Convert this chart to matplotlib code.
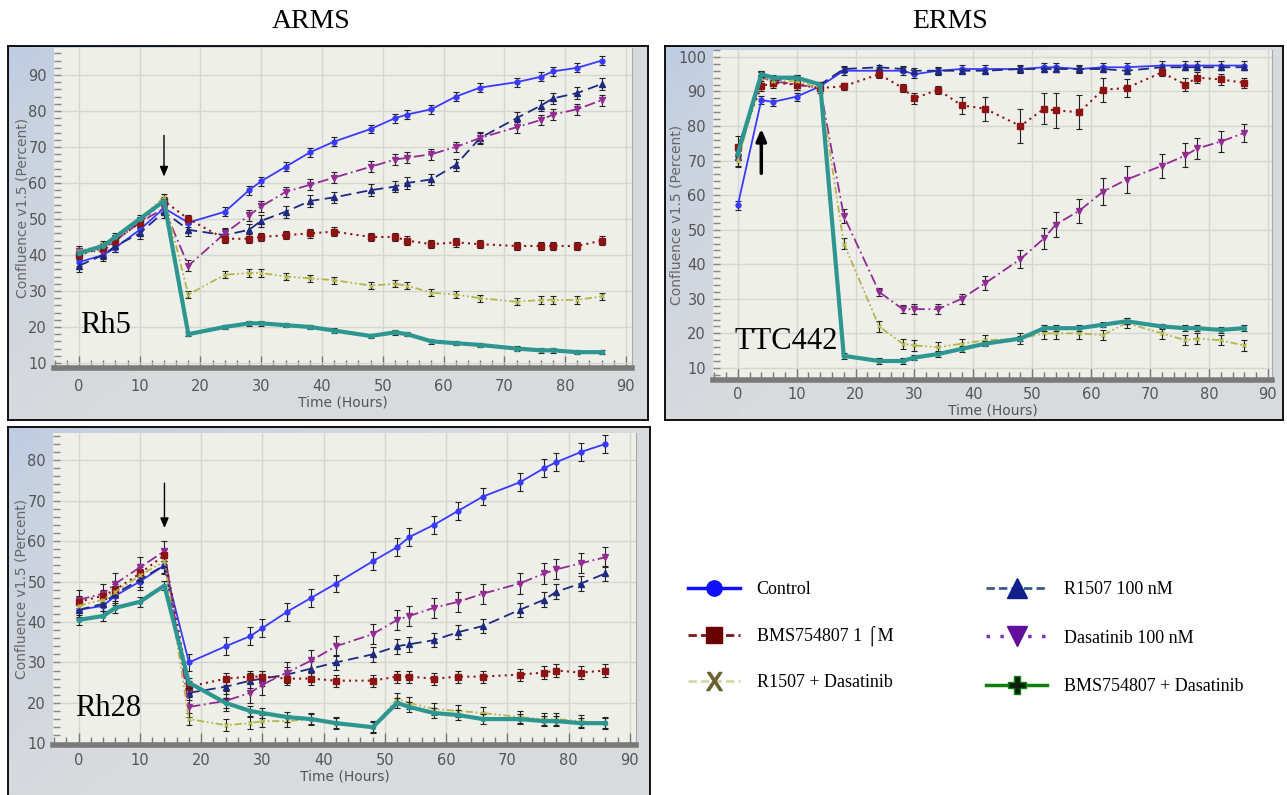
import numpy as np
import matplotlib.pyplot as plt
from matplotlib import font_manager
from matplotlib.lines import Line2D
from matplotlib.ticker import MultipleLocator

W, H = 1287, 795

hours = [0, 4, 6, 10, 14, 18, 24, 28, 30, 34, 38, 42, 48, 52, 54, 58, 62, 66, 72, 76, 78, 82, 86]

labels = ['Control', 'BMS754807 1 ⌠M', 'R1507 + Dasatinib',
          'R1507 100 nM', 'Dasatinib 100 nM', 'BMS754807 + Dasatinib']

# Rh5 (ARMS)
rh5_control = [38, 40, 42, 47, 53, 49, 52, 58, 60.5, 64.5, 68.5, 71.5, 75, 78, 79, 80.5, 84, 86.5, 88, 89.5, 91, 92, 94]
rh5_r1507 = [37, 40, 42.5, 46, 52, 47, 45.5, 47, 49.5, 52, 55, 56, 58, 59, 60, 61, 65, 72.5, 78, 81.5, 83.5, 85, 87.5]
rh5_das = [41, 41, 44, 49, 53, 37, 46, 51, 53.5, 57.5, 59.5, 61.5, 64.5, 66.5, 67, 68, 70, 72.5, 75.5, 77.5, 79, 80.5, 83]
rh5_bms = [40, 42, 44, 49, 55, 50, 44.5, 44.5, 45, 45.5, 46, 46.5, 45, 45, 44, 43, 43.5, 43, 42.5, 42.5, 42.5, 42.5, 44]
rh5_r_das = [41, 43, 45, 50, 56, 29, 34.5, 35, 35, 34, 33.5, 33, 31.5, 32, 31.5, 29.5, 29, 28, 27, 27.5, 27.5, 27.5, 28.5]
rh5_b_das = [40.5, 42.5, 45, 50, 55, 18, 20, 21, 21, 20.5, 20, 19, 17.5, 18.5, 18, 16, 15.5, 15, 14, 13.5, 13.5, 13, 13]
rh5_err = [1.2, 1.2, 1.0, 1.6, 1.5, 0.6]

# TTC442 (ERMS)
ttc_control = [57, 87.5, 87, 88.5, 91.5, 96, 96, 96, 95, 96, 96.5, 96.5, 96.5, 97, 97, 96.5, 97, 97, 97.5, 97.5, 97.5, 97.5, 97.5]
ttc_r1507 = [71, 95, 93, 94, 92, 96.5, 97, 96.5, 96, 96, 96, 96, 96.5, 96.5, 96.5, 96.5, 96.5, 96, 97, 97, 97, 97, 97]
ttc_das = [71, 94, 93, 92, 91, 54, 32, 27, 27, 27, 30, 34.5, 41.5, 47.5, 51.5, 55.5, 61, 64.5, 68.5, 71.5, 73.5, 75.5, 78]
ttc_bms = [74, 91.5, 92.5, 92, 91, 91.5, 95, 91, 88, 90.5, 86, 85, 80, 85, 84.5, 84, 90.5, 91, 95.5, 92, 94, 93.5, 92.5]
ttc_r_das = [70, 94, 93, 93, 91, 46, 22, 17, 16.5, 16, 17, 18, 18.5, 20, 20, 20, 19.5, 23, 20, 18, 18.5, 18, 16.5]
ttc_b_das = [72, 95, 94, 94, 92, 13.5, 12, 12, 13, 14, 15.5, 17, 18.5, 21.5, 21.5, 21.5, 22.5, 23.5, 22, 21.5, 21.5, 21, 21.5]
ttc_bms_err = [3, 1.5, 1.5, 1.5, 1, 1, 1, 1.2, 1.5, 1.2, 2.5, 3.5, 5, 4.5, 5, 5, 3.5, 2.5, 1, 2, 1.5, 1.5, 1.5]
ttc_das_err = [3, 1.5, 1.5, 1.5, 1, 2, 1.2, 1.2, 1.5, 1.5, 1.5, 2, 2.5, 3, 3.5, 3.5, 4, 4, 3.5, 3.5, 3, 3, 2.5]
ttc_err = [1.2, ttc_bms_err, 1.5, 0.8, ttc_das_err, 0.8]

# Rh28 (ARMS)
rh28_control = [43, 44, 46.5, 50, 54, 30, 34, 36.5, 38.5, 42.5, 46, 49.5, 55, 58.5, 61, 64, 67.5, 71, 74.5, 78, 79.5, 82, 84]
rh28_r1507 = [43, 44.5, 47, 50.5, 54, 22.5, 24, 25.5, 26, 27, 28.5, 30, 32, 34, 34.5, 35.5, 37.5, 39, 43, 45.5, 47.5, 49.5, 52]
rh28_das = [45.5, 47, 49.5, 53.5, 57.5, 19, 20.5, 22.5, 24.5, 27.5, 30.5, 34, 37, 40.5, 41.5, 43.5, 45, 47, 49.5, 52, 53, 54.5, 56]
rh28_bms = [45, 46.5, 48, 52, 56.5, 24, 26, 26.5, 26.5, 26, 26, 25.5, 25.5, 26.5, 26.5, 26, 26.5, 26.5, 27, 27.5, 28, 27.5, 28]
rh28_r_das = [44, 45.5, 47.5, 51.5, 55, 16, 14.5, 15, 15.5, 15.5, 16, 15, 14, 21, 20, 18.5, 18, 17.5, 16.5, 16, 16, 15.5, 15]
rh28_b_das = [40.5, 41.5, 43.5, 45, 49, 25, 20, 18, 17.5, 16.5, 16, 15, 14, 20, 19, 17.5, 17, 16, 16, 15.5, 15.5, 15, 15]
rh28_err = [2.2, 1.5, 1.5, 1.8, 2.5, 1.2]

# line styles in the plots: control, bms, r1507+das, r1507, das, bms+das
plot_styles = [
    dict(color='#3a3aff', ls='-', lw=1.3, marker='o', ms=3.5),
    dict(color='#8e1414', ls=(0, (1, 2)), lw=1.5, marker='s', ms=4.5),
    dict(color='#b4b44c', ls=(0, (4, 1.5, 1, 1.5, 1, 1.5)), lw=1.3, marker='x', ms=3),
    dict(color='#1e2a80', ls=(0, (6, 3)), lw=1.3, marker='^', ms=4.5),
    dict(color='#922c92', ls=(0, (6, 2, 1, 2)), lw=1.3, marker='v', ms=5),
    dict(color='#2e9690', ls='-', lw=3, marker='o', ms=3),
]
draw_order = [0, 3, 4, 1, 2, 5]

names = {f.name for f in font_manager.fontManager.ttflist}
narrow = 'Liberation Sans Narrow' if 'Liberation Sans Narrow' in names else 'DejaVu Sans'
serif = ['Liberation Serif', 'DejaVu Serif']


def fx(px):
    return px / W


def fy(py):
    return 1 - py / H


fig = plt.figure(figsize=(W / 100, H / 100), dpi=100)
fig.patch.set_facecolor('white')


def panel_bg(x0, y0, x1, y1):
    bg = fig.add_axes([fx(x0), fy(y1), fx(x1 - x0), (y1 - y0) / H])
    h, w = 60, 60
    rr, cc = np.mgrid[0:h, 0:w]
    t = np.clip(rr / h * 0.9 + cc / w * 1.2, 0, 1) ** 0.6
    blue = np.array([0.74, 0.80, 0.89])
    gray = np.array([0.85, 0.855, 0.865])
    img = blue[None, None, :] * (1 - t[..., None]) + gray[None, None, :] * t[..., None]
    bg.imshow(img, aspect='auto', extent=[0, 1, 0, 1], interpolation='bilinear')
    bg.set_xticks([])
    bg.set_yticks([])
    for s in bg.spines.values():
        s.set_color('black')
        s.set_linewidth(1.3)
    return bg


def panel(box, xlim, ylim, series, errs, name, name_xy, arrow, ylab_px, xpad):
    left, top, right, bottom = box
    ax = fig.add_axes([fx(left), fy(bottom), fx(right - left), (bottom - top) / H])
    ax.set_facecolor('#efefe9')
    for i in draw_order:
        st = plot_styles[i]
        ax.errorbar(hours, series[i], yerr=errs[i], color=st['color'], ls=st['ls'],
                    lw=st['lw'], marker=st['marker'], ms=st['ms'],
                    mfc=st['color'], mec=st['color'],
                    ecolor='#222222', elinewidth=0.8, capsize=2, capthick=0.8,
                    zorder=3 + (2 if i == 5 else 0))
    ax.set_xlim(*xlim)
    ax.set_ylim(*ylim)
    ax.xaxis.set_major_locator(MultipleLocator(10))
    ax.xaxis.set_minor_locator(MultipleLocator(2))
    ax.yaxis.set_major_locator(MultipleLocator(10))
    ax.yaxis.set_minor_locator(MultipleLocator(2))
    ax.grid(True, which='major', color='#d6d6d0', lw=1)
    ax.set_axisbelow(True)
    for s in ['top', 'left']:
        ax.spines[s].set_visible(False)
    ax.spines['right'].set_color('#a8a8a8')
    ax.spines['bottom'].set_color('#7a7a7a')
    ax.spines['bottom'].set_linewidth(4)
    ax.tick_params(axis='x', which='both', direction='in', color='#777777', labelsize=10.5,
                   labelcolor='#555555', pad=xpad)
    ax.tick_params(axis='x', which='major', length=9, width=1)
    ax.tick_params(axis='x', which='minor', length=6, width=1)
    ax.tick_params(axis='y', which='both', direction='in', color='#888888', labelsize=10.5,
                   labelcolor='#555555', pad=5, length=5, width=1)
    for lab in ax.get_xticklabels() + ax.get_yticklabels():
        lab.set_family(narrow)
    ax.set_xlabel('Time (Hours)', family=narrow, fontsize=10, color='#555555', labelpad=1)
    ax.set_ylabel('Confluence v1.5 (Percent)', fontsize=10, color='#666666')
    ax.yaxis.set_label_coords(-ylab_px / (right - left), 0.5)
    ax.text(name_xy[0], name_xy[1], name, family=serif, fontsize=22, color='black',
            ha='left', va='center', transform=ax.transData, zorder=10)
    ax.annotate('', xy=arrow[1], xytext=arrow[0],
                arrowprops=dict(arrowstyle=arrow[2], color='black', lw=arrow[3]), zorder=10)
    return ax


panel_bg(8, 46, 648, 420)
panel_bg(665, 46, 1283, 420)
panel_bg(8, 427, 650, 800)

panel((54, 48, 632, 368), (-4.1, 91.0), (8.6, 97.5),
      [rh5_control, rh5_bms, rh5_r_das, rh5_r1507, rh5_das, rh5_b_das], rh5_err,
      'Rh5', (0.2, 20.5), ((14, 74), (14, 61), '-|>,head_width=0.25,head_length=0.6', 1.0),
      24, 8)

panel((713, 50, 1272, 380), (-4.2, 90.7), (6.5, 102),
      [ttc_control, ttc_bms, ttc_r_das, ttc_r1507, ttc_das, ttc_b_das], ttc_err,
      'TTC442', (-0.5, 17.5), ((4, 65.5), (4, 80), '-|>,head_width=0.3,head_length=0.7', 2.5),
      29, 5)

panel((53, 433, 636, 745), (-4.2, 91.0), (9.6, 86.7),
      [rh28_control, rh28_bms, rh28_r_das, rh28_r1507, rh28_das, rh28_b_das], rh28_err,
      'Rh28', (-0.6, 18.5), ((14, 75), (14, 62.5), '-|>,head_width=0.25,head_length=0.6', 1.0),
      24, 6)

fig.text(fx(311), fy(22), 'ARMS', family=serif, fontsize=20, ha='center', va='center')
fig.text(fx(950), fy(22), 'ERMS', family=serif, fontsize=20, ha='center', va='center')

# legend proxies
leg_styles = [
    dict(color='#1010ff', ls='-', lw=2.5, marker='o', ms=11, mfc='#1010ff', mec='#1010ff'),
    dict(color='#7a1818', ls=(0, (3, 1.5)), lw=2, marker='s', ms=12, mfc='#6a0000', mec='#6a0000'),
    dict(color='#cfdca8', ls=(0, (3, 1.5)), lw=2, marker=r'$\mathrm{X}$', ms=13, mfc='#6a6030', mec='#6a6030'),
    dict(color='#3a5a8a', ls=(0, (3, 1.5)), lw=2, marker='^', ms=14, mfc='#10208a', mec='#10208a'),
    dict(color='#8030c0', ls=(0, (1, 3)), lw=2.5, marker='v', ms=15, mfc='#60109a', mec='#60109a'),
    dict(color='#108010', ls='-', lw=2.5, marker='P', ms=13, mfc='#0a200a', mec='#108010'),
]
handles = [Line2D([], [], **s) for s in leg_styles]

leg_kw = dict(loc='upper left', frameon=False, borderpad=0, borderaxespad=0,
              labelspacing=1.55, handletextpad=0.9,
              prop=dict(family=serif + ['DejaVu Sans'], size=13))
fig.legend(handles[:3], labels[:3], bbox_to_anchor=(fx(688), fy(581)), handlelength=2.9, **leg_kw)
fig.legend(handles[3:], labels[3:], bbox_to_anchor=(fx(986), fy(581)), handlelength=3.4,
           **dict(leg_kw, labelspacing=1.75))

fig.savefig('out.png', dpi=100)
